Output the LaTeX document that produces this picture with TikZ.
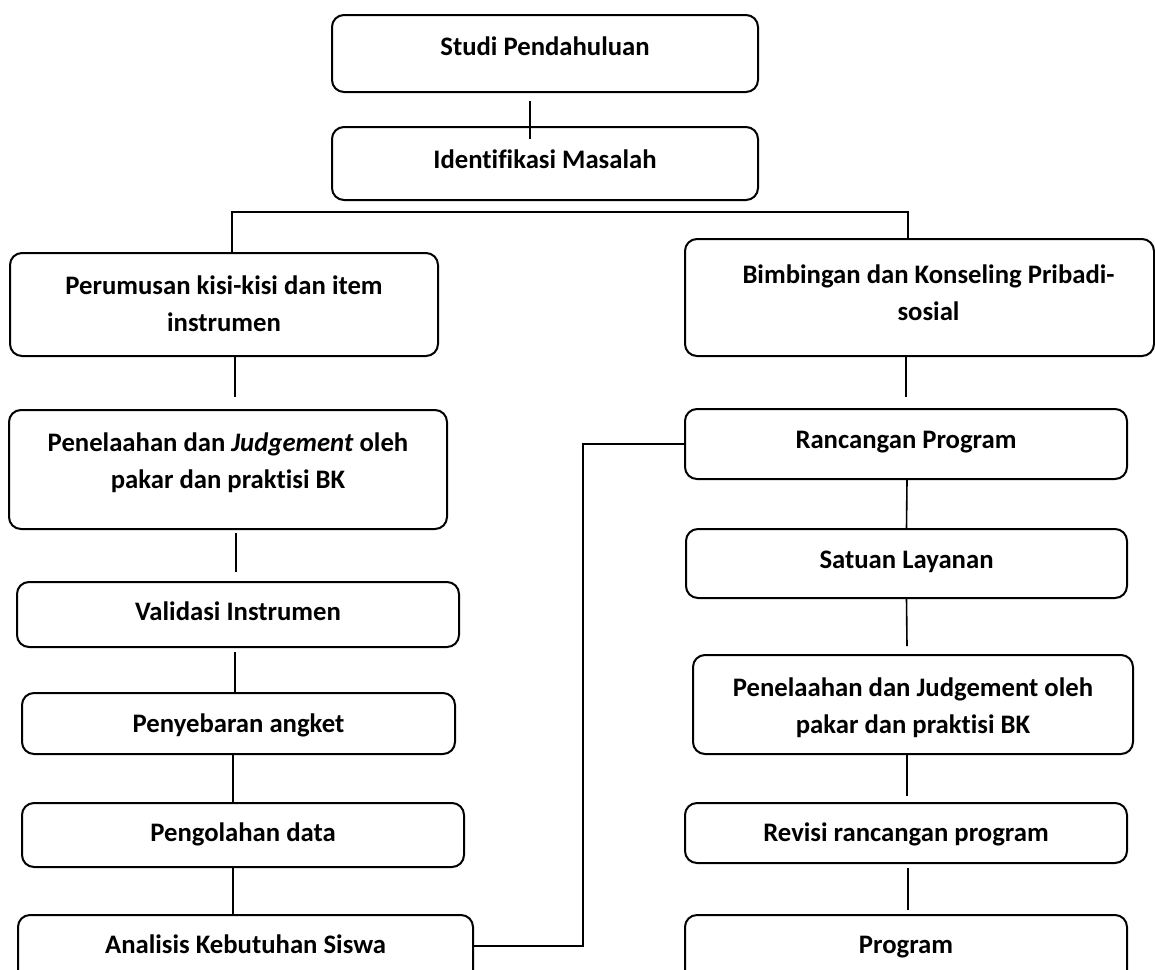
\documentclass[tikz,border=0pt]{standalone}
\usepackage{fontspec}
\setmainfont{Carlito}[Ligatures=NoCommon]
\usetikzlibrary{fit}

\tikzset{
  blok/.style={draw, rounded corners=6pt, line width=1pt, inner sep=0pt},
  teks/.style={anchor=base, align=center, inner sep=0pt,
    font=\fontsize{13.35pt}{18.5pt}\selectfont\bfseries},
  garis/.style={line width=0.8pt}
}

\begin{document}
\begin{tikzpicture}[x=0.5pt, y=-0.5pt]
  \useasboundingbox (0,0) rectangle (1155,969);

  \node[blok, fit={(332,15) (758,92)}] (studi) {};
  \node[blok, fit={(332,127) (758,200)}] (ident) {};
  \node[blok, fit={(10,253) (438,356)}] (rumus) {};
  \node[blok, fit={(9,410) (447,529)}] (telaahA) {};
  \node[blok, fit={(17,582) (459,647)}] (validasi) {};
  \node[blok, fit={(22,693) (455,754)}] (sebar) {};
  \node[blok, fit={(22,803) (464,867)}] (olah) {};
  \node[blok, fit={(18,915) (473,1000)}] (analisis) {};
  \node[blok, fit={(685,239) (1154,356)}] (bimbingan) {};
  \node[blok, fit={(685,409) (1127,479)}] (rancangan) {};
  \node[blok, fit={(686,529) (1127,598)}] (satuan) {};
  \node[blok, fit={(693,655) (1133,754)}] (telaahB) {};
  \node[blok, fit={(685,803) (1127,863)}] (revisi) {};
  \node[blok, fit={(685,915) (1127,1000)}] (program) {};

  \node[teks] (studi-t) at ([yshift=-20.8pt]studi.north) {Studi Pendahuluan};
  \node[teks] (ident-t) at ([yshift=-21.3pt]ident.north) {Identifikasi Masalah};
  \node[teks] (rumus-t) at ([yshift=-39.8pt]rumus.north) {Perumusan kisi-kisi dan item\\instrumen};
  \node[teks] (telaahA-t) at ([yshift=-39.8pt]telaahA.north) {Penelaahan dan \textit{Judgement} oleh\\pakar dan praktisi BK};
  \node[teks] (validasi-t) at ([yshift=-19.8pt]validasi.north) {Validasi Instrumen};
  \node[teks] (sebar-t) at ([yshift=-20.3pt]sebar.north) {Penyebaran angket};
  \node[teks] (olah-t) at ([yshift=-19.8pt]olah.north) {Pengolahan data};
  \node[teks] (analisis-t) at ([yshift=-19.8pt]analisis.north) {Analisis Kebutuhan Siswa};
  \node[teks] (bimbingan-t) at ([xshift=4.5pt,yshift=-41.3pt]bimbingan.north) {Bimbingan dan Konseling Pribadi-\\sosial};
  \node[teks] (rancangan-t) at ([yshift=-20.3pt]rancangan.north) {Rancangan Program};
  \node[teks] (satuan-t) at ([yshift=-20.3pt]satuan.north) {Satuan Layanan};
  \node[teks] (telaahB-t) at ([yshift=-39.8pt]telaahB.north) {Penelaahan dan Judgement oleh\\pakar dan praktisi BK};
  \node[teks] (revisi-t) at ([yshift=-19.8pt]revisi.north) {Revisi rancangan program};
  \node[teks] (program-t) at ([yshift=-19.8pt]program.north) {Program};

  \coordinate (cabang) at (570,212);
  \coordinate (belok) at (583,444);

  \draw[garis] ([xshift=-7.5pt,yshift=-4pt]studi.south) -- ([xshift=-7.5pt,yshift=-6.5pt]ident.north);
  \draw[garis] ([xshift=4pt]rumus.north) |- (cabang) -| ([xshift=-5.75pt]bimbingan.north);
  \draw[garis] ([xshift=5.5pt]rumus.south) -- ([xshift=3.5pt,yshift=6pt]telaahA.north);
  \draw[garis] ([xshift=4pt,yshift=-1.5pt]telaahA.south) -- ([xshift=-1pt,yshift=4.5pt]validasi.north);
  \draw[garis] ([xshift=-1.5pt,yshift=-2pt]validasi.south) -- ([xshift=-1.75pt]sebar.north);
  \draw[garis] ([xshift=-2.75pt]sebar.south) -- ([xshift=-5pt]olah.north);
  \draw[garis] ([xshift=-5pt]olah.south) -- ([xshift=-6.25pt]analisis.north);
  \draw[garis] ([yshift=-16pt]analisis.north east) -| (belok) -- (rancangan.west);
  \draw[garis] ([xshift=-6.75pt]bimbingan.south) -- ([yshift=5.5pt]rancangan.north);
  \draw[garis] ([xshift=0.5pt]rancangan.south) -- (satuan.north);
  \draw[garis] (satuan.south) -- ([xshift=-3pt,yshift=4pt]telaahB.north);
  \draw[garis] ([xshift=-3pt]telaahB.south) -- ([xshift=0.5pt,yshift=3pt]revisi.north);
  \draw[garis] ([xshift=1pt,yshift=-2pt]revisi.south) -- ([xshift=1pt,yshift=2pt]program.north);
\end{tikzpicture}
\end{document}
